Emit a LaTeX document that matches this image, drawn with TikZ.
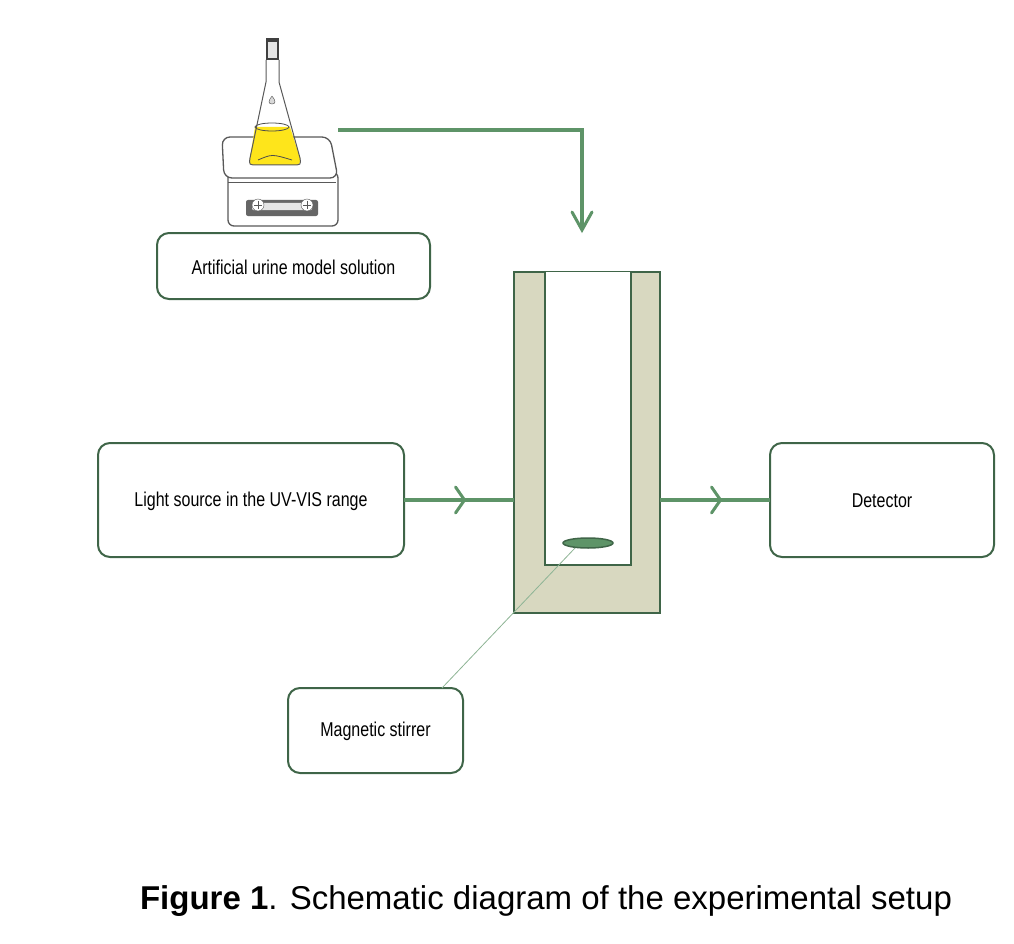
\documentclass[tikz,border=0pt]{standalone}
\usepackage{fontspec}
\setmainfont{Liberation Sans}
\usetikzlibrary{decorations.markings}
\definecolor{lg}{HTML}{5E9468}
\definecolor{dg}{HTML}{3F6548}
\definecolor{beige}{HTML}{D8D8C0}
\begin{document}
\begin{tikzpicture}[x=1pt,y=-1pt,
 box/.style={draw=dg,line width=2pt,rounded corners=12pt},
 flow/.style={draw=lg,line width=3.5pt},
 chev/.style={postaction={decorate,decoration={markings,mark=at position #1 with {\draw[lg,line width=3pt,line cap=round] (-9pt,-13pt)--(0,0)--(-9pt,13pt);}}}}]
\useasboundingbox (0,0) rectangle (1014,944);
\path[box] (157,233) rectangle (430,299);
\node (art) at (293.5,267) {\fontsize{20}{22}\selectfont\scalebox{0.8}[1]{Artificial urine model solution}};
\path[box] (98,443) rectangle (404,557);
\node (ls) at (251,501) {\fontsize{20}{22}\selectfont\scalebox{0.8}[1]{Light source in the UV-VIS range}};
\path[box] (770,443) rectangle (994,557);
\node (det) at (882,501) {\fontsize{20}{22}\selectfont\scalebox{0.8}[1]{Detector}};
\path[box] (288,688) rectangle (463,773);
\node (ms) at (375.5,731) {\fontsize{20}{22}\selectfont\scalebox{0.8}[1]{Magnetic stirrer}};
% cuvette
\fill[beige,draw=dg,line width=2pt] (514,272) rectangle (660,613);
\fill[white,draw=dg,line width=2pt] (545,272) -- (545,565) -- (631,565) -- (631,272);
\draw[dg,line width=1.5pt,fill=lg] (588,543) ellipse (25 and 5);
\coordinate (st) at (575,548);
\coordinate (stb) at (442,688);
\draw[lg!70,line width=0.8pt] (st) -- (stb);
% flows
\coordinate (a1) at (404,500); \coordinate (a2) at (514,500);
\coordinate (b1) at (660,500); \coordinate (b2) at (770,500);
\draw[flow,chev=0.55] (a1) -- (a2);
\draw[flow,chev=0.55] (b1) -- (b2);
\coordinate (t1) at (338,130); \coordinate (t2) at (582,130); \coordinate (t3) at (582,230);
\draw[flow] (t1) -- (t2) -- (t3);
\draw[lg,line width=3pt,line cap=round] (572,212)--(582,230)--(592,212);
% hot plate
\draw[gray!70!black,line width=1.3pt,fill=white,rounded corners=6pt] (228,172) rectangle (338,226);
\draw[gray!70!black,line width=1.3pt,fill=white,rounded corners=8pt] (222,137) -- (330,137) -- (338,178) -- (224,178) -- cycle;
\draw[gray!70!black,line width=1pt] (228,183) -- (336,183);
\fill[gray!80!black,rounded corners=2pt] (246,200) rectangle (318,216);
\fill[gray!20,rounded corners=1pt] (252,203) rectangle (312,210);
\foreach \kx in {258,307} {\draw[gray!70!black,fill=white] (\kx,205) circle (6);
 \draw[gray!70!black] (\kx-4,205)--(\kx+4,205) (\kx,201)--(\kx,209);}
% flask
\fill[yellow!85!orange!90] (255,127) -- (290,127) -- (300,158) .. controls (300,165) .. (292,165) -- (258,165) .. controls (249,165) .. (250,158) -- cycle;
\draw[gray!70!black,line width=1pt] (266,60) -- (266,82) -- (250,158) .. controls (249,165) .. (258,165) -- (292,165) .. controls (301,165) .. (300,158) -- (279,82) -- (279,60);
\draw[gray!60!black,line width=0.8pt] (272,127) ellipse (17 and 4);
\draw[gray!60!black,line width=0.8pt] (258,160) .. controls (272,154) .. (292,160);
\fill[gray!50!black] (266,38) rectangle (279,60);
\fill[gray!20] (268,42) rectangle (277,58);
\draw[gray!60!black,fill=gray!30] (272,96) .. controls (268,101) and (268,104) .. (272,104) .. controls (276,104) and (276,101) .. (272,96);
% caption
\node (cap) at (546,901) {\fontsize{33}{38}\selectfont\textbf{Figure 1}. Schematic diagram of the experimental setup};
\end{tikzpicture}
\end{document}
